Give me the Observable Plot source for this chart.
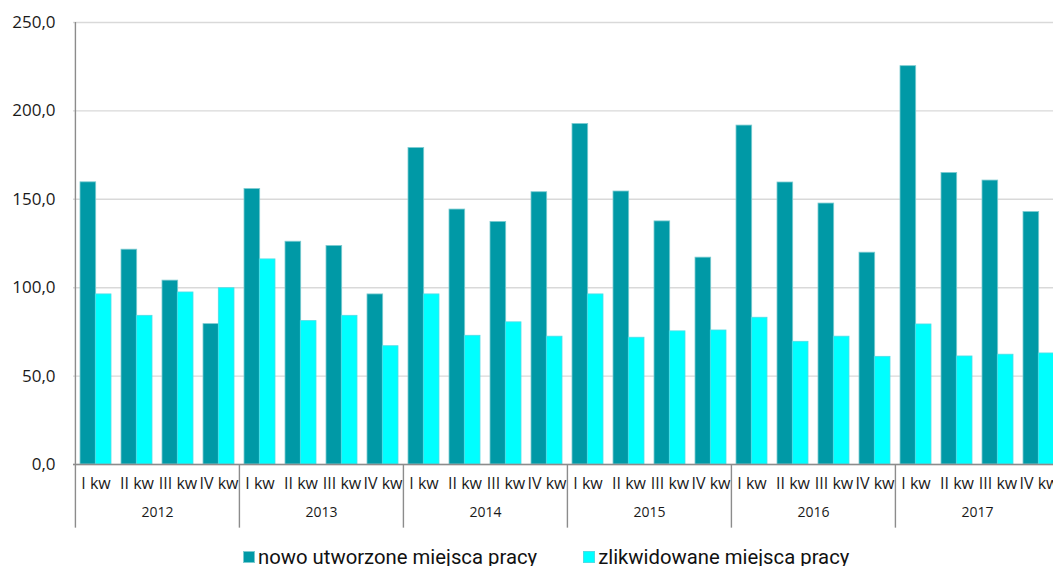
<!DOCTYPE html>
<html><head><meta charset="utf-8">
<script src="https://cdn.jsdelivr.net/npm/d3@7"></script>
<script src="https://cdn.jsdelivr.net/npm/@observablehq/plot@0.6"></script>
<style>
html,body{margin:0;padding:0;background:#fff;overflow:hidden;width:1053px;height:566px}
#chart{position:absolute;left:0;top:0}
#chart svg{max-width:none !important}
#legend{position:absolute;left:243px;top:545px;display:flex;align-items:center;font-family:Roboto,sans-serif;font-size:20.3px;color:#111;white-space:nowrap;line-height:24px}
.item{display:flex;align-items:center}
.sw{display:inline-block;width:12px;height:12px;margin-right:3px;box-sizing:border-box}
</style></head><body>
<div id="chart"></div>
<div id="legend"></div>
<script>
const years = ["2012", "2013", "2014", "2015", "2016", "2017"];
const quarters = ["I kw", "II kw", "III kw", "IV kw"];
const seriesNames = ["nowo utworzone miejsca pracy", "zlikwidowane miejsca pracy"];
const nowe = [159.6, 121.5, 104.0, 79.4, 155.8, 126.0, 123.6, 96.2, 179.0, 144.2, 137.2, 154.0, 192.6, 154.4, 137.5, 117.0, 191.7, 159.5, 147.6, 119.8, 225.3, 164.9, 160.6, 142.8];
const zlikwidowane = [96.2, 84.1, 97.3, 99.7, 116.0, 81.1, 84.1, 66.9, 96.2, 72.8, 80.4, 72.3, 96.2, 71.7, 75.3, 75.8, 83.0, 69.4, 72.3, 60.9, 79.2, 61.1, 62.1, 62.8];
const yTicks = [0, 50, 100, 150, 200, 250];

const colors = ["#0099a6", "#00ffff"];
const strokes = ["#7ccbd1", "#4fdde6"];

const rows = [];
years.forEach((y, i) => quarters.forEach((q, j) => {
  const k = i * 4 + j;
  rows.push({key: y + "|" + q, year: y, quarter: q, nowe: nowe[k], zlik: zlikwidowane[k]});
}));
const keys = rows.map(d => d.key);

const width = 1061, height = 534, marginLeft = 73, marginRight = 0, marginTop = 22, marginBottom = 70;
const paddingInner = 0.256;
const step = (width - marginLeft - marginRight) / keys.length;
const half = step * (1 - paddingInner) / 2;
const yMax = yTicks[yTicks.length - 1];

const chart = Plot.plot({
  width, height, marginLeft, marginRight, marginTop, marginBottom,
  style: {fontFamily: "'Open Sans', sans-serif", color: "#1a1a1a", background: "#fff", maxWidth: "none"},
  x: {domain: keys, paddingInner, paddingOuter: paddingInner / 2, axis: null, label: null},
  y: {domain: [0, yMax], axis: null, label: null},
  marks: [
    Plot.gridY(yTicks, {stroke: "#d9d9d9", strokeOpacity: 1, strokeWidth: 1.4}),
    Plot.barY(rows, {x: "key", y: "nowe", fill: colors[0], stroke: strokes[0], strokeWidth: 0.8, insetRight: half}),
    Plot.barY(rows, {x: "key", y: "zlik", fill: colors[1], stroke: strokes[1], strokeWidth: 0.8, insetLeft: half}),
    Plot.ruleY([0], {stroke: "#8c8c8c", strokeWidth: 1.4}),
    Plot.ruleX([keys[0]], {dx: -step / 2, y1: 0, y2: yMax, stroke: "#8c8c8c", strokeWidth: 1.4}),
    Plot.ruleX(years, {x: y => y + "|" + quarters[0], dx: -step / 2, y1: 0, y2: -36, stroke: "#8c8c8c", strokeWidth: 1.4}),
    Plot.axisY(yTicks, {tickSize: 0, tickPadding: 18, fontSize: 17, label: null, tickFormat: d => d.toFixed(1).replace(".", ",")}),
    Plot.axisX({tickSize: 0, tickPadding: 13, fontSize: 16, label: null, tickFormat: k => k.split("|")[1]}),
    Plot.text(years, {x: y => y + "|" + quarters[1], dx: step / 2, frameAnchor: "bottom", dy: 52, text: d => d, fontSize: 14})
  ]
});
document.getElementById("chart").appendChild(chart);

const legend = document.getElementById("legend");
seriesNames.forEach((name, i) => {
  const item = document.createElement("span");
  item.className = "item";
  item.style.marginRight = i === 0 ? "46px" : "0";
  const sw = document.createElement("span");
  sw.className = "sw";
  sw.style.background = colors[i];
  sw.style.border = "1px solid " + strokes[i];
  item.appendChild(sw);
  item.appendChild(document.createTextNode(name));
  legend.appendChild(item);
});
</script>
</body></html>
